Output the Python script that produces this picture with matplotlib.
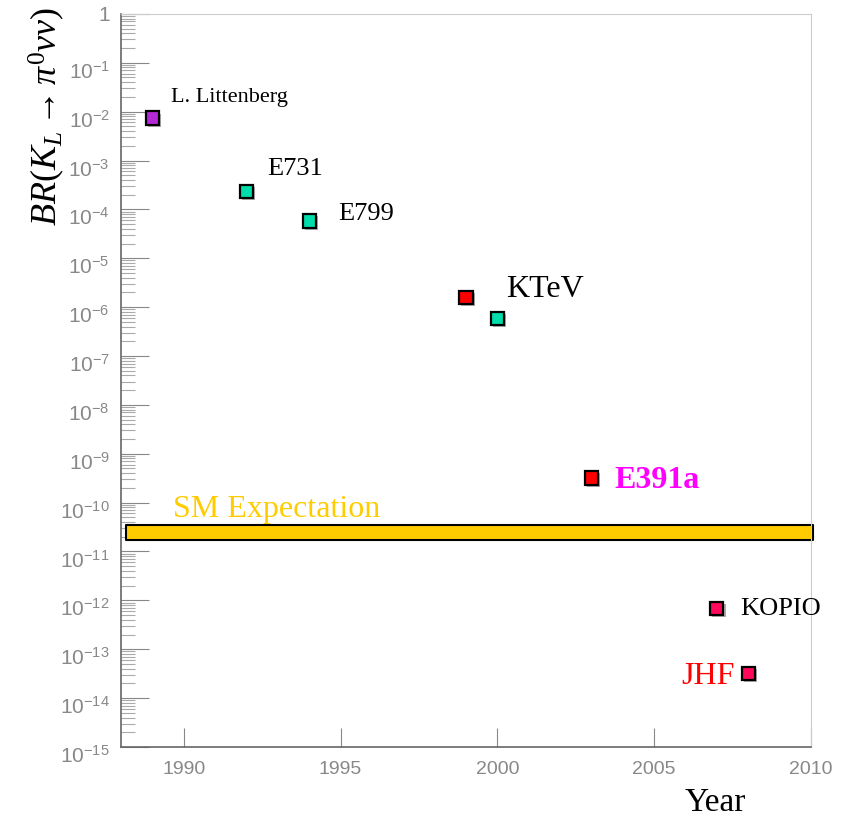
import numpy as np
import matplotlib
matplotlib.use("Agg")
import matplotlib.pyplot as plt
import matplotlib.patheffects as pe
import matplotlib.transforms as mtrans
from matplotlib.ticker import FixedLocator, FuncFormatter, LogLocator, NullFormatter

plt.rcParams['mathtext.fontset'] = 'custom'
plt.rcParams['mathtext.rm'] = 'Liberation Serif'
plt.rcParams['mathtext.it'] = 'Liberation Serif:italic'
plt.rcParams['mathtext.bf'] = 'Liberation Serif:bold'

# Datos
experimentos = ['L. Littenberg', 'E731', 'E799', 'KTeV', 'KTeV', 'E391a', 'KOPIO', 'JHF']
anios = [1989, 1992, 1994, 1999, 2000, 2003, 2007, 2008]
br = [7.4e-3, 2.3e-4, 5.8e-5, 1.6e-6, 5.9e-7, 3.2e-10, 6.8e-13, 3.2e-14]
colores = ['#B428D8', '#00DDAA', '#00DDAA', '#FF0000', '#00DDAA', '#FF0000', '#FF0A5A', '#FF0A5A']

# Expectativa del Modelo Estandar
sm_bajo = 1.7e-11
sm_alto = 3.5e-11
sm_anios = [1988.15, 2010.05]

fig = plt.figure(figsize=(8.43, 8.17), dpi=100)
ax = fig.add_axes([0.1435, 0.0857, 0.8185, 0.8973])
ax.set_yscale('log')
ax.set_xlim(1988, 2010)
ax.set_ylim(1e-15, 1)

# banda SM
ax.fill_between(sm_anios, sm_bajo, sm_alto, facecolor='#FFCC00', edgecolor='black',
                linewidth=1.5, clip_on=False, zorder=2)

# puntos con sombra
sombra = [pe.SimplePatchShadow(offset=(1.5, -1.5), shadow_rgbFace='#777777', alpha=0.6), pe.Normal()]
for a, b, c in zip(anios, br, colores):
    ax.plot(a, b, 's', ms=9.5, mfc=c, mec='black', mew=1.6, zorder=4, path_effects=sombra)

# etiquetas (desplazamiento en pixeles respecto al punto)
serif = 'Liberation Serif'
ax.annotate('L. Littenberg', (anios[0], br[0]), xytext=(19, 21), textcoords='offset pixels',
            fontsize=16, family=serif, va='center')
ax.annotate('E731', (anios[1], br[1]), xytext=(21, 23), textcoords='offset pixels',
            fontsize=19, family=serif, va='center')
ax.annotate('E799', (anios[2], br[2]), xytext=(29, 7), textcoords='offset pixels',
            fontsize=19, family=serif, va='center')
ax.annotate('KTeV', (anios[4], br[4]), xytext=(9, 29), textcoords='offset pixels',
            fontsize=23, family=serif, va='center')
ax.annotate('E391a', (anios[5], br[5]), xytext=(23, -3), textcoords='offset pixels',
            fontsize=23, family=serif, weight='bold', color='#FF00FF', va='center')
ax.annotate('KOPIO', (anios[6], br[6]), xytext=(23, 0), textcoords='offset pixels',
            fontsize=19, family=serif, va='center')
ax.annotate('JHF', (anios[7], br[7]), xytext=(-14, -3), textcoords='offset pixels',
            fontsize=23, family=serif, color='#FF0000', va='center', ha='right')
ax.annotate('SM Expectation', (sm_anios[0], sm_alto), xytext=(47, 15), textcoords='offset pixels',
            fontsize=23, family=serif, color='#FFCC00', va='center')

# ejes estilo ROOT
gris = '#888888'
for lado in ['top', 'right']:
    ax.spines[lado].set_color('#CCCCCC')
for lado in ['left', 'bottom']:
    ax.spines[lado].set_color('#666666')
    ax.spines[lado].set_linewidth(1.2)

ax.set_xticks([1990, 1995, 2000, 2005, 2010])
ax.tick_params(axis='x', direction='in', length=14, color=gris, labelcolor=gris,
               labelsize=14, pad=10)
ax.tick_params(axis='x', which='minor', length=0)

ax.yaxis.set_major_locator(FixedLocator([10.0 ** -k for k in range(0, 16)]))
ax.yaxis.set_minor_locator(LogLocator(base=10, subs=np.arange(2, 10), numticks=100))
ax.yaxis.set_minor_formatter(NullFormatter())

def etiqueta(v, pos):
    e = int(round(np.log10(v)))
    if e == 0:
        return '1'
    return r'$\mathregular{10^{-%d}}$' % (-e)

ax.yaxis.set_major_formatter(FuncFormatter(etiqueta))
ax.tick_params(axis='y', which='major', direction='in', length=20, color=gris,
               labelcolor=gris, labelsize=15, pad=8)
ax.tick_params(axis='y', which='minor', direction='in', length=10, color='#AAAAAA', width=0.8)
bajar = mtrans.ScaledTranslation(0, -5 / 72, fig.dpi_scale_trans)
for t in ax.get_yticklabels():
    t.set_family('Liberation Sans')
    if t.get_text() != '1':
        t.set_transform(t.get_transform() + bajar)
for t in ax.get_xticklabels():
    t.set_family('Liberation Sans')

fig.text(0.055, 0.858, r'$BR(K_L \rightarrow \pi^0 \nu\nu)$', rotation=90, fontsize=26,
         ha='center', va='center')
fig.text(0.849, 0.018, 'Year', fontsize=24, family=serif, ha='center', va='center')

plt.savefig('out.png', dpi=100)
